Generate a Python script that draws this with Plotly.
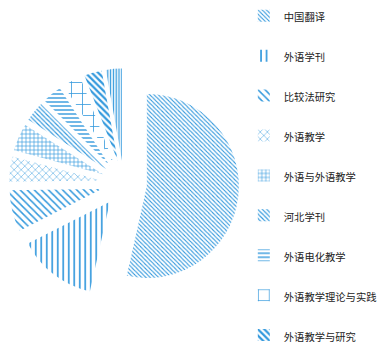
import plotly.graph_objects as go

categories = ["中国翻译", "外语学刊", "比较法研究", "外语教学", "外语与外语教学",
              "河北学刊", "外语电化教学", "外语教学理论与实践", "外语教学与研究", "现代外语"]
values = [53.5, 14.0, 7.3, 4.4, 4.8, 3.5, 3.4, 3.2, 3.1, 2.8]

shapes = ["\\", "|", "\\", "x", "+", "\\", "-", "+", "\\", "|"]
sizes = [3, 5.5, 5, 5, 4, 3.2, 4, 11, 4.5, 2.8]
solids = [0.35, 0.3, 0.3, 0.18, 0.3, 0.35, 0.35, 0.14, 0.5, 0.45]

blue = "#3399dd"
legend_labels = ["<span style='font-size:10.3px'>" + c + "</span><br>\u00a0"
                 for c in categories]

fig = go.Figure(go.Pie(
    labels=legend_labels,
    values=values,
    sort=False,
    direction="clockwise",
    rotation=0,
    pull=0.25,
    textinfo="none",
    hoverinfo="skip",
    marker=dict(
        colors=["white"] * len(values),
        line=dict(width=0),
        pattern=dict(shape=shapes, size=sizes, solidity=solids,
                     fgcolor=blue, bgcolor="white", fillmode="replace"),
    ),
    domain=dict(x=[9 / 378, 239 / 378], y=[1 - 298.5 / 345, 1 - 68.5 / 345]),
))

fig.update_layout(
    width=378, height=345,
    margin=dict(l=0, r=0, t=0, b=0, autoexpand=False),
    paper_bgcolor="white",
    plot_bgcolor="white",
    showlegend=True,
    legend=dict(x=0.645, y=1.0, xanchor="left", yanchor="top", valign="top",
                font=dict(family="Noto Sans CJK SC", size=14.2, color="#222222"),
                bgcolor="rgba(0,0,0,0)", borderwidth=0),
    font=dict(family="Noto Sans CJK SC"),
)

fig.write_html("out.html", config={"staticPlot": True})
